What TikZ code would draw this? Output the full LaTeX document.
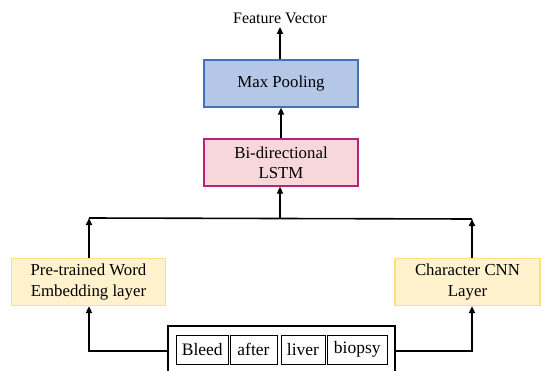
\documentclass[tikz,border=0pt]{standalone}
\usepackage{fontspec}
\setmainfont{Liberation Serif}
\usetikzlibrary{arrows.meta}
\definecolor{bluefill}{HTML}{B4C7E7}
\definecolor{bluedraw}{HTML}{4A6FB0}
\definecolor{pinkfill}{HTML}{F8D7DA}
\definecolor{pinkdraw}{HTML}{B5267A}
\definecolor{yelfill}{HTML}{FFF2CC}
\definecolor{yeldraw}{HTML}{FFDF80}
\tikzset{
  blk/.style={minimum width=154pt, minimum height=47pt, align=center, inner sep=0pt, line width=1.2pt, font=\rmfamily\fontsize{16.8}{20.5}\selectfont},
  wbox/.style={draw=black, line width=0.9pt, inner sep=0pt, minimum height=29pt, font=\rmfamily\fontsize{17.5}{20}\selectfont},
  conn/.style={line width=1.6pt, -{Triangle[length=7pt,width=6pt]}},
}
\begin{document}
\begin{tikzpicture}[x=1pt,y=-1pt]
\useasboundingbox (0,0) rectangle (541,370);
\clip (0,0) rectangle (541,370);
\node[font=\rmfamily\fontsize{16}{18}\selectfont] (fv) at (280,18) {Feature Vector};
\node[blk, fill=bluefill, draw=bluedraw] (mp) at (281,83.5) {Max Pooling};
\node[blk, fill=pinkfill, draw=pinkdraw] (lstm) at (281,162.5) {Bi-directional\\LSTM};
\node[blk, fill=yelfill, draw=yeldraw, minimum width=154pt] (we) at (88.5,282) {Pre-trained Word\\Embedding layer};
\node[blk, fill=yelfill, draw=yeldraw, minimum width=145pt] (cnn) at (467.5,282) {Character CNN\\Layer};
\node[draw=black, line width=1.6pt, minimum width=227pt, minimum height=60pt, inner sep=0pt] (outer) at (281.5,356) {};
\node[wbox, minimum width=51.5pt] (w1) at (202.25,349.5) {Bleed};
\node[wbox, minimum width=47pt] (w2) at (253.5,349.5) {after};
\node[wbox, minimum width=44pt] (w3) at (303,349.5) {liver};
\node[wbox, minimum width=59.4pt] (w4) at (357.3,349.5) {biopsy};
\coordinate (jl) at (89,218);
\coordinate (jr) at (472,219);
\coordinate (jc) at (280,218.5);
\draw[conn] (mp.north -| fv) -- (fv.south);
\draw[conn] (lstm.north -| mp) -- (mp.south);
\draw[conn] (jc) -- (lstm.south -| jc);
\draw[line width=1.6pt] (jl) -- (jr);
\draw[conn] (we.north -| jl) -- (jl);
\draw[conn] (cnn.north -| jr) -- (jr);
\draw[conn] (outer.west |- 0,351) -| (we.south -| jl);
\draw[conn] (outer.east |- 0,351) -| (cnn.south -| jr);
\end{tikzpicture}
\end{document}
